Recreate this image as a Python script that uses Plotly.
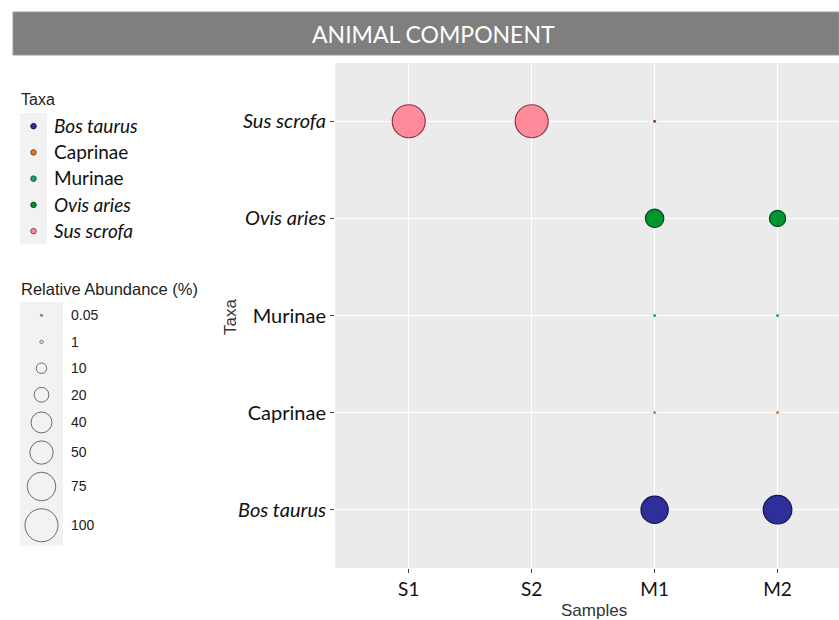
import numpy as np
import plotly.graph_objects as go

# ---- data -------------------------------------------------------------
samples = ["S1", "S2", "M1", "M2"]
taxa = ["Bos taurus", "Caprinae", "Murinae", "Ovis aries", "Sus scrofa"]
italic_taxa = {"Bos taurus", "Ovis aries", "Sus scrofa"}

# relative abundance (%) per taxon, one value per sample (None = absent)
bos_taurus = [None, None, 68, 75]
caprinae = [None, None, 0.5, 0.5]
murinae = [None, None, 0.8, 0.8]
ovis_aries = [None, None, 31, 24]
sus_scrofa = [100, 100, 0.2, None]

size_breaks = [0.05, 1, 10, 20, 40, 50, 75, 100]
size_labels = ["0.05", "1", "10", "20", "40", "50", "75", "100"]

# ---- styling ----------------------------------------------------------
W, H = 839, 620
fill = {
    "Bos taurus": "#2f2f9c",
    "Caprinae": "#d97a30",
    "Murinae": "#19a57a",
    "Ovis aries": "#00962e",
    "Sus scrofa": "#ff8a9a",
}
edge = {
    "Bos taurus": "#15154e",
    "Caprinae": "#8a4010",
    "Murinae": "#0b5a40",
    "Ovis aries": "#00461a",
    "Sus scrofa": "#8a3a48",
}
MAX_D = 33.0                            # diameter (px) for 100 %
SIZEREF = 2.0 * 100.0 / MAX_D ** 2      # plotly area-mode scaling
TICK_FONT = "Lato"
AX_FONT = "Liberation Sans"


def diameter(v):
    return np.sqrt(2.0 * v / SIZEREF)


def px_x(p):
    return p / W


def px_y(p):
    return 1 - p / H


def label(t):
    return f"<i>{t}</i>" if t in italic_taxa else t


series = {
    "Bos taurus": bos_taurus,
    "Caprinae": caprinae,
    "Murinae": murinae,
    "Ovis aries": ovis_aries,
    "Sus scrofa": sus_scrofa,
}

fig = go.Figure()

# ---- main bubble panel ------------------------------------------------
for t in taxa:
    vals = series[t]
    xs = [s for s, v in zip(samples, vals) if v is not None]
    vs = [v for v in vals if v is not None]
    ys = [t] * len(vs)
    # tiny bubbles read as their darker outline colour
    cols = [fill[t] if diameter(v) > 2 else edge[t] for v in vs]
    fig.add_trace(go.Scatter(
        x=xs, y=ys, mode="markers", showlegend=False,
        marker=dict(size=vs, sizemode="area", sizeref=SIZEREF, sizemin=1.5,
                    color=cols, opacity=1,
                    line=dict(color=edge[t],
                              width=[1.2 if diameter(v) > 6 else 0 for v in vs])),
        xaxis="x", yaxis="y", hoverinfo="x+y+text", text=[f"{v}%" for v in vs],
    ))

# ---- taxa key ---------------------------------------------------------
fig.add_trace(go.Scatter(
    x=[0] * len(taxa), y=list(range(len(taxa)))[::-1], mode="markers",
    showlegend=False, hoverinfo="skip",
    marker=dict(size=5.5, color=[fill[t] for t in taxa],
                line=dict(color=[edge[t] for t in taxa], width=1)),
    xaxis="x2", yaxis="y2",
))

# ---- size key ---------------------------------------------------------
key_d = [diameter(b) for b in size_breaks]
key_h = [max(26.5, d + 8) for d in key_d]
key_c = list(np.cumsum(key_h) - np.array(key_h) / 2)
fig.add_trace(go.Scatter(
    x=[0] * len(size_breaks), y=key_c, mode="markers",
    showlegend=False, hoverinfo="skip",
    marker=dict(size=size_breaks, sizemode="area", sizeref=SIZEREF, sizemin=1.6,
                color=["#555555" if d < 2 else "rgba(0,0,0,0)" for d in key_d],
                line=dict(color="#333333",
                          width=[0 if d < 2 else 1 for d in key_d])),
    xaxis="x3", yaxis="y3",
))

# panel geometry (px)
P_L, P_T, P_B = 335, 63, 568
T_L, T_R, T_T = 20, 47, 113
T_B = T_T + 26.25 * len(taxa)
S_L, S_R, S_T = 20, 63, 302
S_B = S_T + sum(key_h)

shapes = [
    # title banner
    dict(type="rect", xref="paper", yref="paper", x0=px_x(13), x1=1,
         y0=px_y(55), y1=px_y(12), fillcolor="#7f7f7f",
         line=dict(color="#9a9a9a", width=1), layer="below"),
    # plotting panel
    dict(type="rect", xref="paper", yref="paper", x0=px_x(P_L), x1=1,
         y0=px_y(P_B), y1=px_y(P_T), fillcolor="#ebebeb", line_width=0,
         layer="below"),
    # key backgrounds
    dict(type="rect", xref="paper", yref="paper", x0=px_x(T_L), x1=px_x(T_R),
         y0=px_y(T_B), y1=px_y(T_T), fillcolor="#f2f2f2", line_width=0,
         layer="below"),
    dict(type="rect", xref="paper", yref="paper", x0=px_x(S_L), x1=px_x(S_R),
         y0=px_y(S_B), y1=px_y(S_T), fillcolor="#f2f2f2", line_width=0,
         layer="below"),
]

annotations = [
    dict(text="ANIMAL COMPONENT", xref="paper", yref="paper",
         x=px_x(433), y=px_y(34), xanchor="center", yanchor="middle",
         showarrow=False, font=dict(family="Lato", size=23, color="white")),
    dict(text="Taxa", xref="paper", yref="paper", x=px_x(231), y=px_y(317),
         xanchor="center", yanchor="middle", textangle=-90, showarrow=False,
         font=dict(family=AX_FONT, size=17, color="#333333")),
    dict(text="Samples", xref="paper", yref="paper", x=px_x(594), y=px_y(610),
         xanchor="center", yanchor="middle", showarrow=False,
         font=dict(family=AX_FONT, size=17, color="#333333")),
    dict(text="Taxa", xref="paper", yref="paper", x=px_x(19), y=px_y(99),
         xanchor="left", yanchor="middle", showarrow=False,
         font=dict(family=AX_FONT, size=16, color="#222222")),
    dict(text="Relative Abundance (%)", xref="paper", yref="paper",
         x=px_x(19), y=px_y(289), xanchor="left", yanchor="middle",
         showarrow=False, font=dict(family=AX_FONT, size=16.5, color="#222222")),
]

fig.update_layout(
    width=W, height=H, margin=dict(l=0, r=0, t=0, b=0),
    paper_bgcolor="white", plot_bgcolor="rgba(0,0,0,0)",
    shapes=shapes, annotations=annotations,
    xaxis=dict(domain=[px_x(P_L), 1], type="category",
               categoryorder="array", categoryarray=samples,
               range=[-0.6, 3.5], showgrid=True, gridcolor="white",
               gridwidth=1.2, zeroline=False, showline=False,
               ticks="outside", ticklen=4, tickcolor="#444444",
               tickfont=dict(family=TICK_FONT, size=19, color="#111111"),
               anchor="y", fixedrange=True),
    yaxis=dict(domain=[px_y(P_B), px_y(P_T)], type="category",
               categoryorder="array", categoryarray=taxa,
               range=[-0.6, 4.6], showgrid=True, gridcolor="white",
               gridwidth=1.2, zeroline=False, showline=False,
               ticks="outside", ticklen=4, tickcolor="#444444",
               tickvals=taxa, ticktext=[label(t) for t in taxa],
               tickfont=dict(family=TICK_FONT, size=20, color="#111111"),
               anchor="x", fixedrange=True),
    xaxis2=dict(domain=[px_x(T_L), px_x(T_R)], range=[-1, 1], visible=False,
                anchor="y2", fixedrange=True),
    yaxis2=dict(domain=[px_y(T_B), px_y(T_T)], range=[-0.5, len(taxa) - 0.5],
                side="right", anchor="x2", showgrid=False, zeroline=False,
                showline=False, ticks="", ticklabelstandoff=6,
                tickvals=list(range(len(taxa)))[::-1],
                ticktext=[label(t) for t in taxa],
                tickfont=dict(family=TICK_FONT, size=19, color="#111111"),
                fixedrange=True),
    xaxis3=dict(domain=[px_x(S_L), px_x(S_R)], range=[-1, 1], visible=False,
                anchor="y3", fixedrange=True),
    yaxis3=dict(domain=[px_y(S_B), px_y(S_T)], range=[sum(key_h), 0],
                side="right", anchor="x3", showgrid=False, zeroline=False,
                showline=False, ticks="", ticklabelstandoff=7,
                tickvals=key_c, ticktext=size_labels,
                tickfont=dict(family=AX_FONT, size=14, color="#222222"),
                fixedrange=True),
)

fig.write_html("out.html")
